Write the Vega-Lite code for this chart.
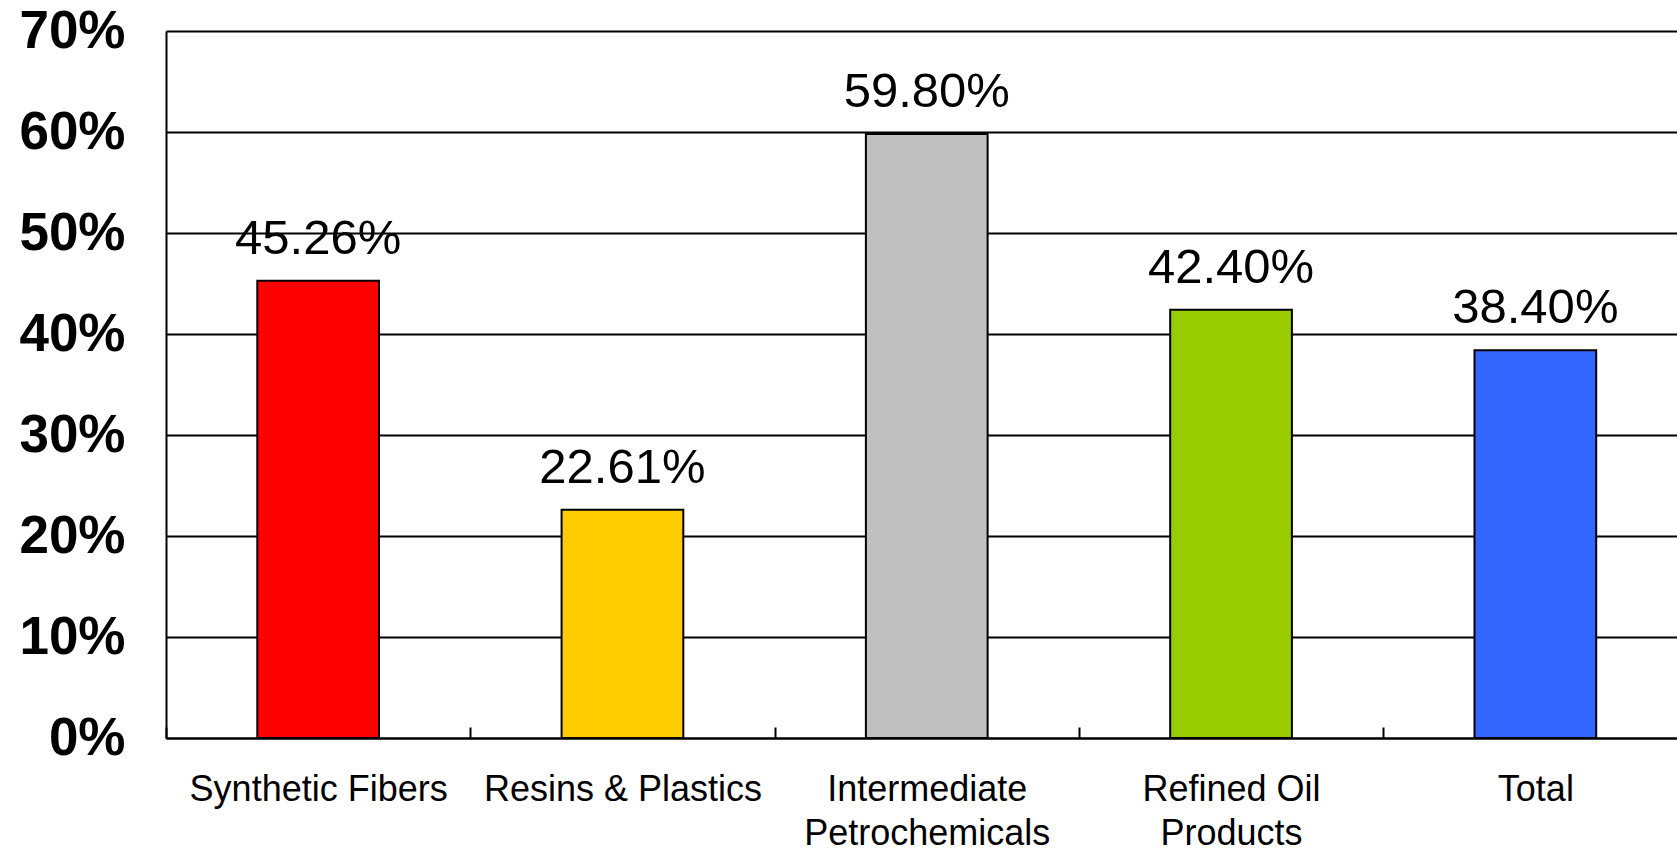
{
  "$schema": "https://vega.github.io/schema/vega-lite/v6.json",
  "width": 1511,
  "height": 707,
  "autosize": {"type": "none"},
  "padding": {"left": 166, "top": 31, "right": 0, "bottom": 112},
  "background": "white",
  "config": {"view": {"stroke": null}, "font": "Liberation Sans"},
  "data": {
    "values": [
      {"category": "Synthetic Fibers", "value": 0.4526},
      {"category": "Resins & Plastics", "value": 0.2261},
      {"category": "Intermediate Petrochemicals", "value": 0.598},
      {"category": "Refined Oil Products", "value": 0.424},
      {"category": "Total", "value": 0.384}
    ]
  },
  "encoding": {
    "x": {
      "field": "category",
      "type": "nominal",
      "sort": null,
      "scale": {"range": [0, 1521.5], "paddingInner": 0, "paddingOuter": 0},
      "axis": {
        "title": null,
        "labelAngle": 0,
        "labelFont": "Liberation Sans",
        "labelFontSize": 36,
        "labelColor": "black",
        "labelLineHeight": 44,
        "labelBaseline": "top",
        "labelLimit": 600,
        "labelOverlap": false,
        "labelExpr": "datum.label == 'Intermediate Petrochemicals' ? ['Intermediate', 'Petrochemicals'] : datum.label == 'Refined Oil Products' ? ['Refined Oil', 'Products'] : datum.label",
        "tickBand": "extent",
        "tickSize": -11,
        "tickColor": "black",
        "tickWidth": 2,
        "domainColor": "black",
        "domainWidth": 2,
        "labelPadding": 45,
        "grid": false
      }
    },
    "y": {
      "field": "value",
      "type": "quantitative",
      "scale": {"domain": [0, 0.7], "nice": false},
      "axis": {
        "title": null,
        "values": [0, 0.1, 0.2, 0.3, 0.4, 0.5, 0.6, 0.7],
        "format": ".0%",
        "labelFont": "Liberation Sans",
        "labelFontSize": 53,
        "labelFontWeight": "bold",
        "labelColor": "black",
        "labelPadding": 41,
        "ticks": false,
        "domainColor": "black",
        "domainWidth": 2,
        "grid": true,
        "gridColor": "black",
        "gridWidth": 2,
        "gridOpacity": 1
      }
    }
  },
  "layer": [
    {
      "mark": {"type": "bar", "width": {"band": 0.4}, "stroke": "black", "strokeWidth": 2},
      "encoding": {
        "color": {
          "field": "category",
          "type": "nominal",
          "scale": {
            "domain": ["Synthetic Fibers", "Resins & Plastics", "Intermediate Petrochemicals", "Refined Oil Products", "Total"],
            "range": ["#FF0000", "#FFCC00", "#C0C0C0", "#99CC00", "#3366FF"]
          },
          "legend": null
        }
      }
    },
    {
      "mark": {"type": "text", "dy": -27, "baseline": "alphabetic", "fontSize": 49, "font": "Liberation Sans", "color": "black"},
      "encoding": {
        "text": {"field": "value", "type": "quantitative", "format": ".2%"}
      }
    }
  ]
}
